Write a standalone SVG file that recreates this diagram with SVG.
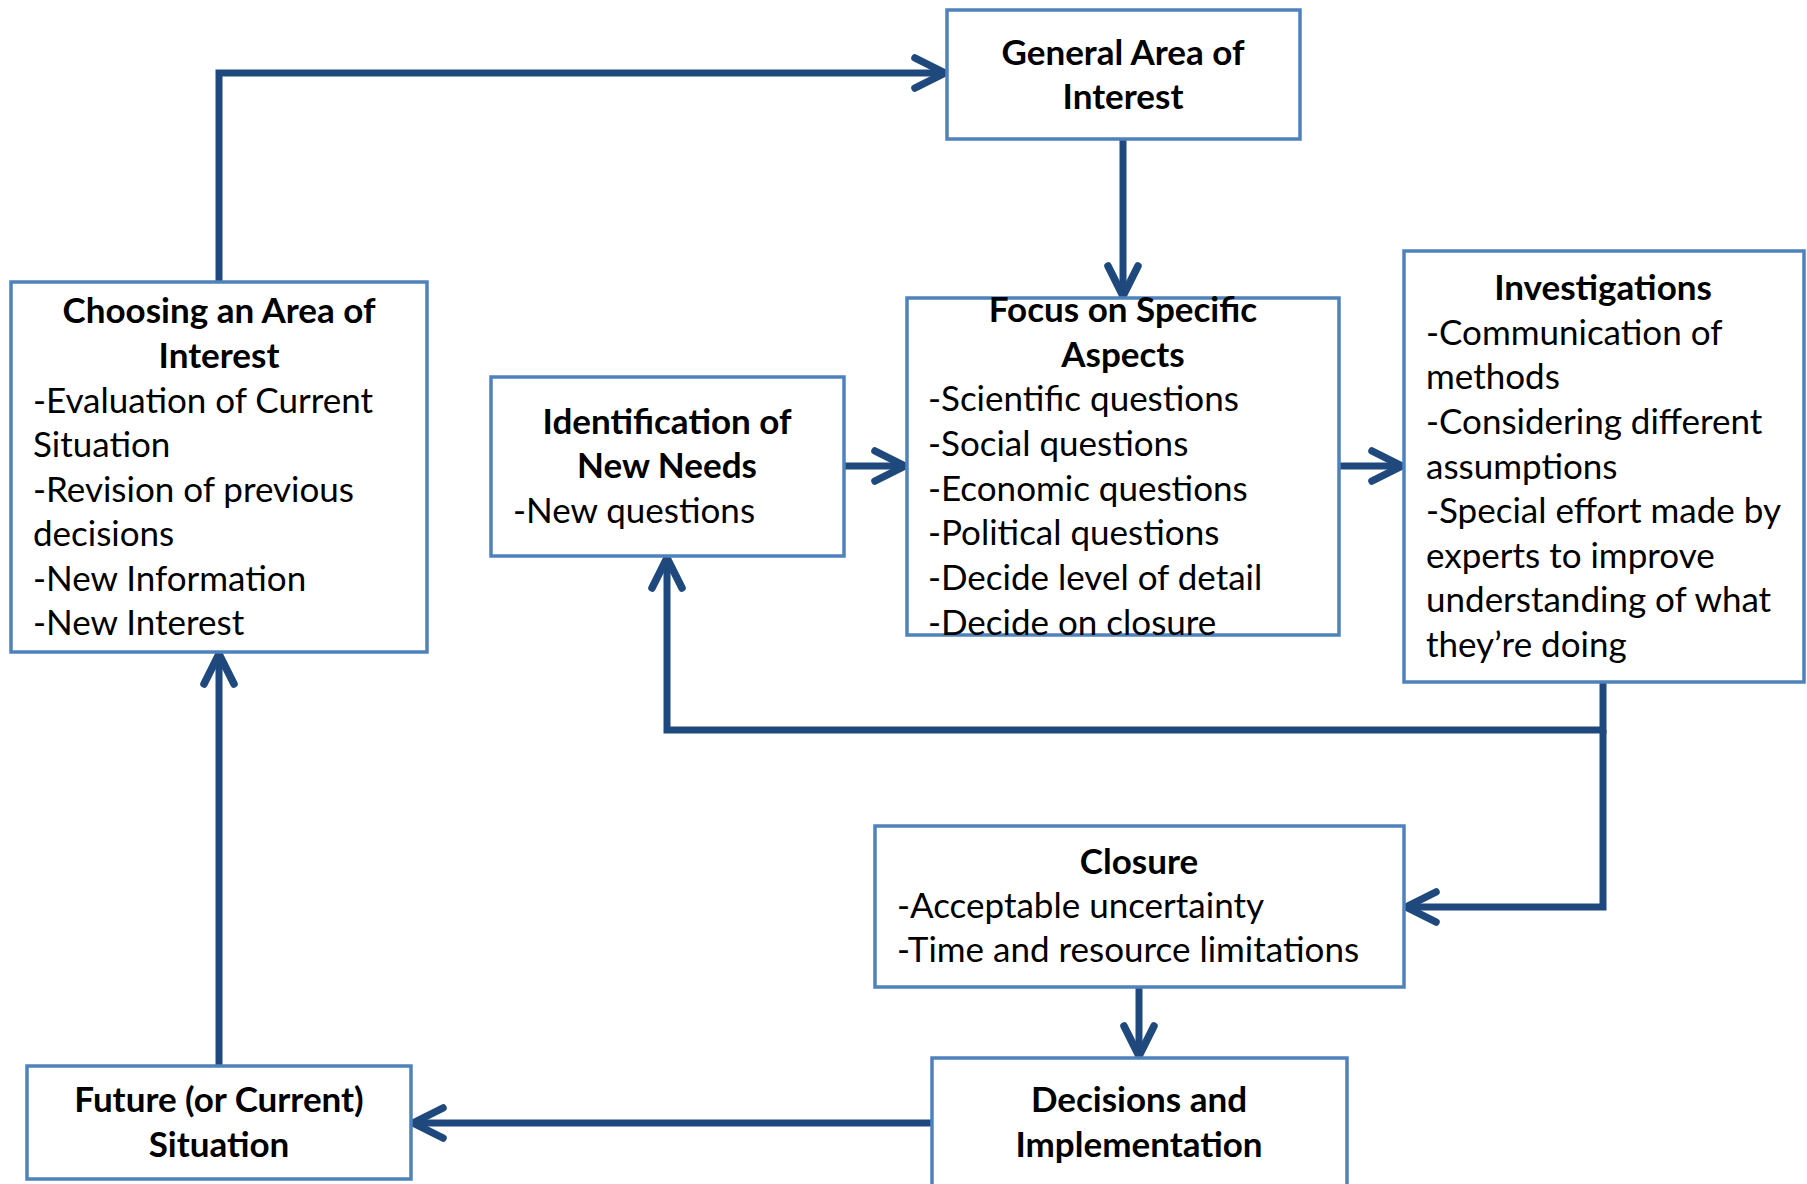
<svg xmlns="http://www.w3.org/2000/svg" width="1807" height="1184" viewBox="0 0 1807 1184">
<defs>
<marker id="arr" markerUnits="userSpaceOnUse" viewBox="-40 -22 46 44" markerWidth="46" markerHeight="44" refX="0" refY="0" orient="auto">
<path d="M -30 -15 L 0 0 L -30 15" fill="none" stroke="#1F497D" stroke-width="7.5" stroke-linecap="round" stroke-linejoin="round"/>
</marker>
</defs>
<style>
.box{fill:#fff;stroke:#4F81BD;stroke-width:3.5}
.con{fill:none;stroke:#1F497D;stroke-width:7;marker-end:url(#arr)}
text{font-family:Lato,"Liberation Sans",sans-serif;font-size:35px;fill:#000}
.h{font-weight:bold;text-anchor:middle}
</style>
<rect width="1807" height="1184" fill="#fff"/>
<g id="connectors">
<path class="con" d="M 219 282 V 73 H 945"/>
<path class="con" d="M 1123 139 V 296"/>
<path class="con" d="M 844 466 H 905"/>
<path class="con" d="M 1339 466 H 1402"/>
<path class="con" d="M 1603 682 V 730 H 667 V 558"/>
<path class="con" d="M 1603 730 V 907 H 1406"/>
<path class="con" d="M 1139 987 V 1056"/>
<path class="con" d="M 932 1123 H 413"/>
<path class="con" d="M 219 1065 V 654"/>
</g>
<g id="general">
<rect class="box" x="947" y="10" width="353" height="129"/>
<text class="h" x="1123" y="65">General Area of</text>
<text class="h" x="1123" y="109">Interest</text>
</g>
<g id="choosing">
<rect class="box" x="11" y="282" width="416" height="370"/>
<text class="h" x="219" y="323">Choosing an Area of</text>
<text class="h" x="219" y="368">Interest</text>
<text x="33" y="413">-Evaluation of Current</text>
<text x="33" y="457">Situation</text>
<text x="33" y="502">-Revision of previous</text>
<text x="33" y="546">decisions</text>
<text x="33" y="591">-New Information</text>
<text x="33" y="635">-New Interest</text>
</g>
<g id="identification">
<rect class="box" x="491" y="377" width="353" height="179"/>
<text class="h" x="667" y="434">Identification of</text>
<text class="h" x="667" y="478">New Needs</text>
<text x="513" y="523">-New questions</text>
</g>
<g id="focus">
<rect class="box" x="907" y="298" width="432" height="337"/>
<text class="h" x="1123" y="322">Focus on Specific</text>
<text class="h" x="1123" y="367">Aspects</text>
<text x="928" y="411">-Scientific questions</text>
<text x="928" y="456">-Social questions</text>
<text x="928" y="501">-Economic questions</text>
<text x="928" y="545">-Political questions</text>
<text x="928" y="590">-Decide level of detail</text>
<text x="928" y="635">-Decide on closure</text>
</g>
<g id="investigations">
<rect class="box" x="1404" y="251" width="400" height="431"/>
<text class="h" x="1603" y="300">Investigations</text>
<text x="1426" y="345">-Communication of</text>
<text x="1426" y="389">methods</text>
<text x="1426" y="434">-Considering different</text>
<text x="1426" y="479">assumptions</text>
<text x="1426" y="523">-Special effort made by</text>
<text x="1426" y="568">experts to improve</text>
<text x="1426" y="612">understanding of what</text>
<text x="1426" y="657">they’re doing</text>
</g>
<g id="closure">
<rect class="box" x="875" y="826" width="529" height="161"/>
<text class="h" x="1139" y="874">Closure</text>
<text x="897" y="918">-Acceptable uncertainty</text>
<text x="897" y="962">-Time and resource limitations</text>
</g>
<g id="decisions">
<rect class="box" x="932" y="1058" width="415" height="140"/>
<text class="h" x="1139" y="1112">Decisions and</text>
<text class="h" x="1139" y="1157">Implementation</text>
</g>
<g id="future">
<rect class="box" x="27" y="1066" width="384" height="113"/>
<text class="h" x="219" y="1112">Future (or Current)</text>
<text class="h" x="219" y="1157">Situation</text>
</g>
</svg>
